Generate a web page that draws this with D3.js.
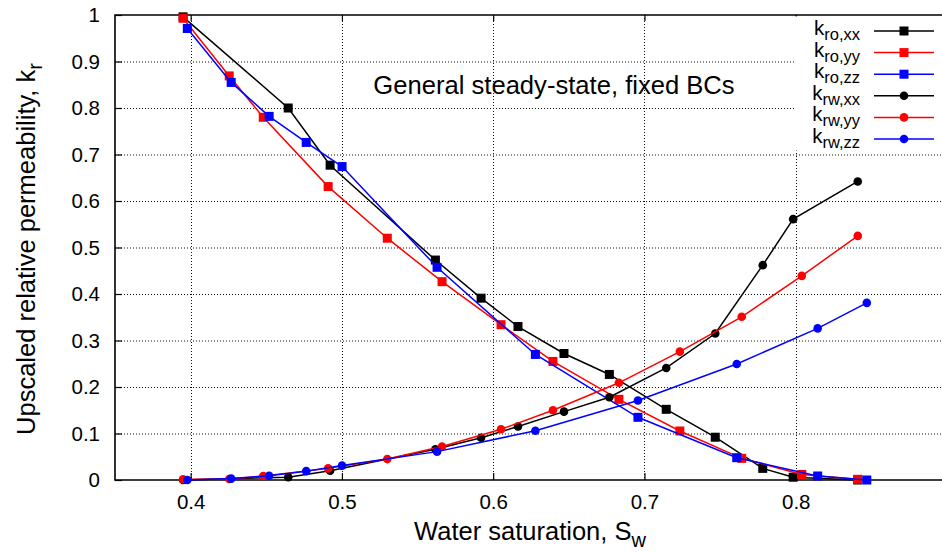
<!DOCTYPE html>
<html>
<head>
<meta charset="utf-8">
<script src="https://cdn.jsdelivr.net/npm/d3@7"></script>
<style>
  html, body { margin: 0; padding: 0; background: #fff; }
  svg { display: block; font-family: "Liberation Sans", Arial, sans-serif; }
</style>
</head>
<body>
<div id="chart"></div>
<script>
// data
var sxXX = [0.395, 0.4645, 0.4922, 0.5618, 0.592, 0.6164, 0.6468, 0.6768, 0.7144, 0.7468, 0.7782, 0.7983, 0.841];
var kroXX = [0.996, 0.80, 0.677, 0.473, 0.391, 0.330, 0.272, 0.227, 0.152, 0.092, 0.025, 0.006, 0.0];
var krwXX = [0.0, 0.006, 0.020, 0.066, 0.091, 0.115, 0.147, 0.178, 0.241, 0.315, 0.462, 0.561, 0.642];

var sxYY = [0.395, 0.4255, 0.448, 0.4909, 0.530, 0.5662, 0.6052, 0.6395, 0.6831, 0.7234, 0.7643, 0.804, 0.841];
var kroYY = [0.993, 0.869, 0.780, 0.631, 0.520, 0.4265, 0.334, 0.255, 0.1735, 0.1054, 0.0466, 0.012, 0.0015];
var krwYY = [0.0015, 0.002, 0.0086, 0.025, 0.045, 0.072, 0.109, 0.150, 0.209, 0.276, 0.351, 0.439, 0.525];

var sxZZ = [0.3978, 0.4268, 0.4519, 0.4764, 0.5001, 0.5629, 0.6279, 0.6957, 0.761, 0.8145, 0.847];
var kroZZ = [0.971, 0.855, 0.782, 0.726, 0.674, 0.4574, 0.270, 0.1348, 0.048, 0.0086, 0.0];
var krwZZ = [0.0, 0.003, 0.009, 0.019, 0.031, 0.061, 0.106, 0.171, 0.2495, 0.326, 0.381];

var xTicks = [0.4, 0.5, 0.6, 0.7, 0.8];
var yTicks = [0, 0.1, 0.2, 0.3, 0.4, 0.5, 0.6, 0.7, 0.8, 0.9, 1];

var seriesNames = ["ro,xx", "ro,yy", "ro,zz", "rw,xx", "rw,yy", "rw,zz"];
var seriesColors = ["#000000", "#ff0000", "#0000ff", "#000000", "#ff0000", "#0000ff"];
var seriesMarkers = ["square", "square", "square", "circle", "circle", "circle"];

var series = [
  {x: sxXX, y: kroXX}, {x: sxYY, y: kroYY}, {x: sxZZ, y: kroZZ},
  {x: sxXX, y: krwXX}, {x: sxYY, y: krwYY}, {x: sxZZ, y: krwZZ}
].map(function(s, i) {
  return {
    name: seriesNames[i], color: seriesColors[i], marker: seriesMarkers[i],
    points: s.x.map(function(v, j) { return [v, s.y[j]]; })
  };
});

var width = 942, height = 552;
var margin = {top: 15, left: 115, bottom: 72};

var x = d3.scaleLinear().domain([0.35, 0.9]).range([margin.left, 947]);
var y = d3.scaleLinear().domain([0, 1]).range([height - margin.bottom, margin.top]);

var svg = d3.select("#chart").append("svg")
  .attr("width", width)
  .attr("height", height);

// grid
svg.append("g").selectAll("line").data(yTicks.slice(1, -1))
  .enter().append("line")
  .attr("x1", x(0.35)).attr("x2", width)
  .attr("y1", function(d) { return y(d) + 0.5; })
  .attr("y2", function(d) { return y(d) + 0.5; })
  .attr("stroke", "#111").attr("stroke-width", 1).attr("stroke-dasharray", "1,2");

svg.append("g").selectAll("line").data(xTicks)
  .enter().append("line")
  .attr("x1", function(d) { return Math.round(x(d)) + 0.5; })
  .attr("x2", function(d) { return Math.round(x(d)) + 0.5; })
  .attr("y1", y(1)).attr("y2", y(0))
  .attr("stroke", "#111").attr("stroke-width", 1).attr("stroke-dasharray", "1,2");

// axes (gnuplot style, inward ticks)
var xAxis = d3.axisBottom(x).tickValues(xTicks).tickSize(-7).tickPadding(14)
  .tickFormat(d3.format(".1f"));
var yAxis = d3.axisLeft(y).tickValues(yTicks).tickSize(-7).tickPadding(15)
  .tickFormat(function(d) { return d === 0 ? "0" : d === 1 ? "1" : d3.format(".1f")(d); });

var gx = svg.append("g").attr("transform", "translate(0," + y(0) + ")").call(xAxis);
var gy = svg.append("g").attr("transform", "translate(" + x(0.35) + ",0)").call(yAxis);
var gxTop = svg.append("g").attr("transform", "translate(0," + y(1) + ")")
  .call(d3.axisTop(x).tickValues(xTicks).tickSize(-6).tickFormat(""));

[gx, gy, gxTop].forEach(function(g) {
  g.select(".domain").remove();
  g.selectAll(".tick line").attr("stroke", "#000").attr("stroke-width", 1.2);
  g.selectAll(".tick text").attr("fill", "#000").attr("font-size", 20.5)
    .attr("font-family", "Liberation Sans, Arial, sans-serif");
});
gx.selectAll(".tick text").attr("dy", "0.71em");
gy.selectAll(".tick text").attr("dy", "0.34em");

// frame
svg.append("path")
  .attr("d", "M" + width + "," + y(1) + "H" + x(0.35) + "V" + y(0) + "H" + width)
  .attr("fill", "none").attr("stroke", "#000").attr("stroke-width", 1.6);

// series
var line = d3.line().x(function(d) { return x(d[0]); }).y(function(d) { return y(d[1]); });

function drawMarker(g, type, color, cx, cy) {
  if (type === "square") {
    g.append("rect")
      .attr("x", cx - 4.5).attr("y", cy - 4.5)
      .attr("width", 9).attr("height", 9)
      .attr("fill", color);
  } else {
    g.append("circle")
      .attr("cx", cx).attr("cy", cy).attr("r", 4.3)
      .attr("fill", color);
  }
}

series.forEach(function(s) {
  var g = svg.append("g");
  g.append("path").datum(s.points)
    .attr("d", line)
    .attr("fill", "none")
    .attr("stroke", s.color)
    .attr("stroke-width", 1.5);
  s.points.forEach(function(p) {
    drawMarker(g, s.marker, s.color, x(p[0]), y(p[1]));
  });
});

// annotation
svg.append("text")
  .attr("x", 554).attr("y", 94)
  .attr("text-anchor", "middle")
  .attr("font-size", 25.6)
  .text("General steady-state, fixed BCs");

// legend with opaque background
var legend = svg.append("g").attr("class", "legend");
legend.append("rect")
  .attr("x", 795).attr("y", y(1) + 1.5)
  .attr("width", width - 795).attr("height", 134)
  .attr("fill", "#fff");

series.forEach(function(s, i) {
  var cy = 31 + i * 21.6;
  var g = legend.append("g");
  var t = g.append("text")
    .attr("x", 860).attr("y", cy + 4)
    .attr("text-anchor", "end")
    .attr("font-size", 20.5);
  t.append("tspan").text("k");
  t.append("tspan").attr("dy", 5).attr("font-size", 16.5).text(s.name);
  g.append("line")
    .attr("x1", 874).attr("x2", 934)
    .attr("y1", cy).attr("y2", cy)
    .attr("stroke", s.color).attr("stroke-width", 1.5);
  drawMarker(g, s.marker, s.color, 904, cy);
});

// axis titles
var xl = svg.append("text")
  .attr("x", 530).attr("y", 540)
  .attr("text-anchor", "middle")
  .attr("font-size", 25.5);
xl.append("tspan").text("Water saturation, S");
xl.append("tspan").attr("dy", 7).attr("font-size", 20).text("w");

var yl = svg.append("text")
  .attr("transform", "translate(35,249) rotate(-90)")
  .attr("text-anchor", "middle")
  .attr("font-size", 25.5);
yl.append("tspan").text("Upscaled relative permeability, k");
yl.append("tspan").attr("dy", 7).attr("font-size", 20).text("r");
</script>
</body>
</html>
